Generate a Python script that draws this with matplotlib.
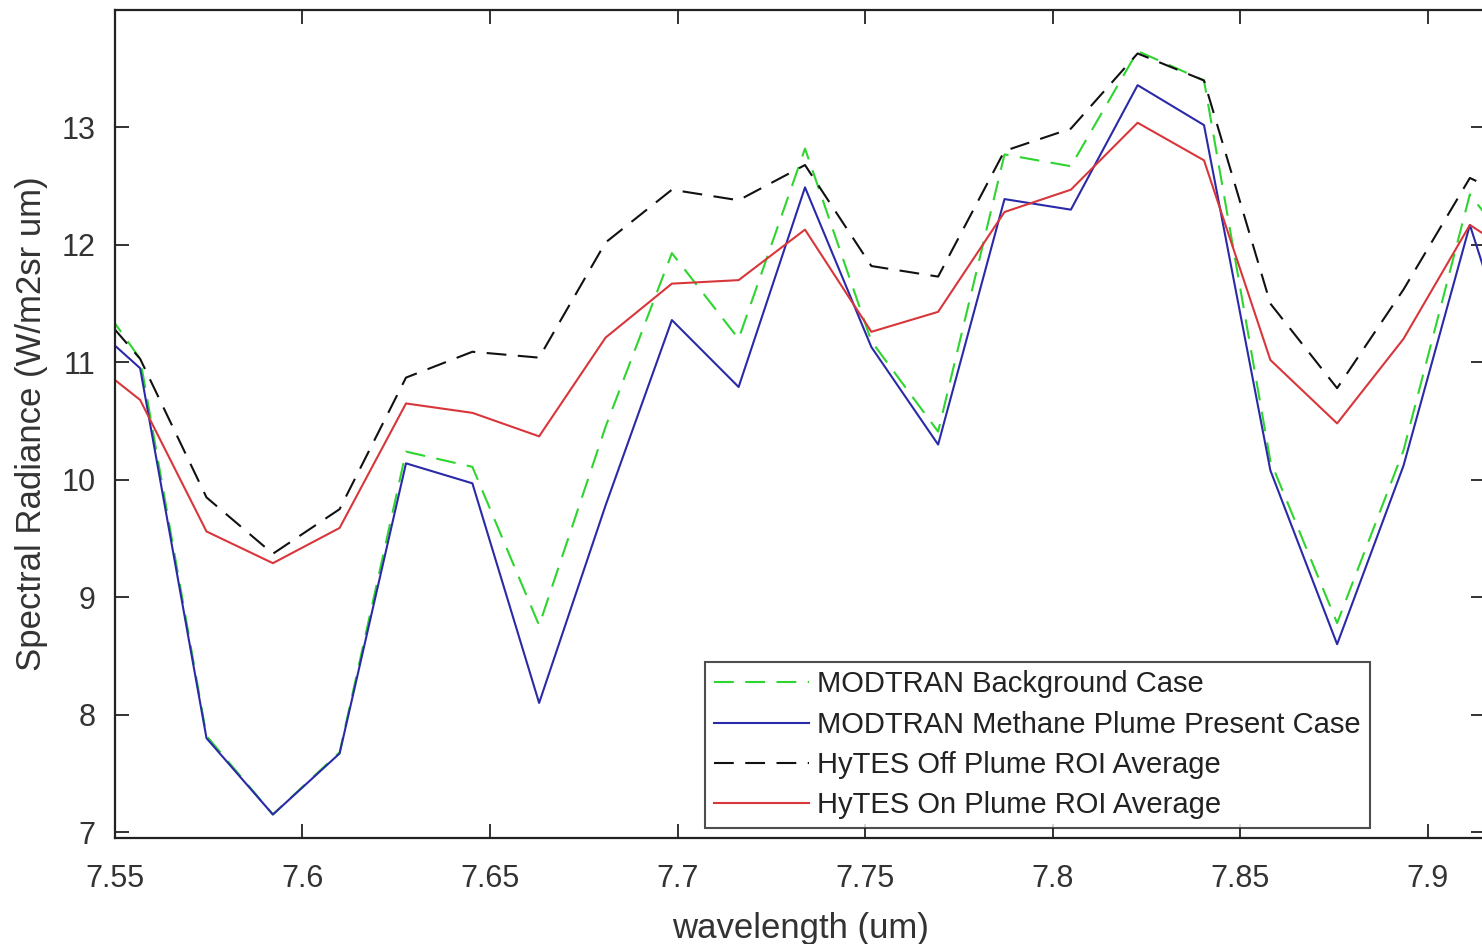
import matplotlib
matplotlib.use('Agg')
import matplotlib.pyplot as plt

# wavelength samples (um); first and last lie just outside the visible range
wavelength = [7.5389, 7.5567, 7.5744, 7.5921, 7.6099, 7.6276, 7.6453, 7.6631,
              7.6808, 7.6985, 7.7163, 7.7340, 7.7517, 7.7695, 7.7872, 7.8049,
              7.8227, 7.8404, 7.8581, 7.8759, 7.8936, 7.9113, 7.9290]

modtran_background = [11.83, 11.03, 7.82, 7.15, 7.68, 10.24, 10.11, 8.76,
                      10.45, 11.93, 11.20, 12.82, 11.18, 10.41, 12.77, 12.67,
                      13.65, 13.40, 10.16, 8.78, 10.25, 12.43, 11.70]
modtran_plume = [11.46, 10.95, 7.80, 7.15, 7.67, 10.14, 9.97, 8.10,
                 9.78, 11.36, 10.79, 12.49, 11.13, 10.30, 12.39, 12.30,
                 13.36, 13.02, 10.08, 8.60, 10.12, 12.17, 10.40]
hytes_off = [11.69, 11.03, 9.85, 9.37, 9.75, 10.87, 11.09, 11.04,
             12.02, 12.47, 12.38, 12.68, 11.82, 11.73, 12.80, 12.99,
             13.63, 13.40, 11.50, 10.78, 11.62, 12.57, 12.30]
hytes_on = [11.13, 10.68, 9.56, 9.29, 9.59, 10.65, 10.57, 10.37,
            11.21, 11.67, 11.70, 12.13, 11.26, 11.43, 12.28, 12.47,
            13.04, 12.72, 11.02, 10.48, 11.20, 12.17, 11.80]

labels = ['MODTRAN Background Case', 'MODTRAN Methane Plume Present Case',
          'HyTES Off Plume ROI Average', 'HyTES On Plume ROI Average']
xticks = [7.55, 7.6, 7.65, 7.7, 7.75, 7.8, 7.85, 7.9]
yticks = [7, 8, 9, 10, 11, 12, 13]

plt.rcParams['font.family'] = ['Liberation Sans', 'DejaVu Sans']
txt = '#333333'

fig = plt.figure(figsize=(14.82, 9.44), dpi=100)
W, H = 1482, 944
ax = fig.add_axes([115 / W, 1 - 838 / H, 1370 / W, 828 / H])

dash = (9.5, 5.5)
ax.plot(wavelength, modtran_background, color='#2fd52f', lw=1.5, dashes=dash, label=labels[0])
ax.plot(wavelength, modtran_plume, color='#2a2aa8', lw=1.5, label=labels[1])
ax.plot(wavelength, hytes_off, color='#111111', lw=1.5, dashes=dash, label=labels[2])
ax.plot(wavelength, hytes_on, color='#d8363a', lw=1.5, label=labels[3])

ax.set_xlim(7.55, 7.55 + 1370 / 3750)
ax.set_ylim(6.95, 14.0)
ax.set_xticks(xticks)
ax.set_xticklabels([f'{t:g}' for t in xticks])
ax.set_yticks(yticks)

for s in ax.spines.values():
    s.set_linewidth(1.6)
    s.set_color('#222222')
ax.tick_params(direction='in', length=10, width=1.3, color='#222222',
               top=True, right=True, labelsize=22, labelcolor=txt)
ax.tick_params(axis='x', pad=19)
ax.tick_params(axis='y', pad=14)

ax.set_xlabel('wavelength (um)', fontsize=25, color=txt, labelpad=13)
ax.set_ylabel('Spectral Radiance (W/m2sr um)', fontsize=25, color=txt, labelpad=10)

leg = ax.legend(loc='lower left', bbox_to_anchor=(590 / 1370, 10 / 828),
                borderaxespad=0, fontsize=21, frameon=True, fancybox=False,
                handlelength=3.25, handletextpad=0.3, labelspacing=0.42,
                borderpad=0.3)
leg.get_frame().set_edgecolor('#222222')
leg.get_frame().set_linewidth(1.5)
for t in leg.get_texts():
    t.set_color('#222222')

fig.savefig('out.png', dpi=100)
